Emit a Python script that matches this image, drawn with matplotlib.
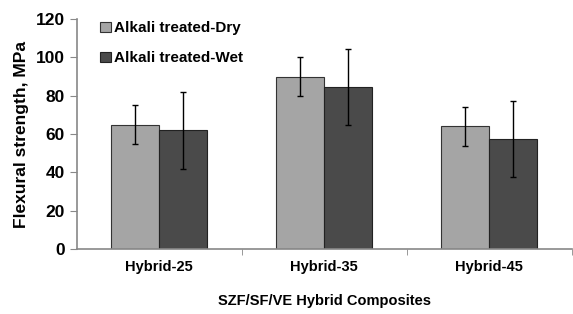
import numpy as np
import matplotlib
matplotlib.use("Agg")
import matplotlib.pyplot as plt

categories = ["Hybrid-25", "Hybrid-35", "Hybrid-45"]
dry_mean = [65, 90, 64]
dry_err = [10, 10, 10]
wet_mean = [62, 84.5, 57.5]
wet_err = [20, 20, 20]
series_names = ["Alkali treated-Dry", "Alkali treated-Wet"]

plt.rcParams["font.family"] = ["Liberation Sans", "DejaVu Sans"]

fig = plt.figure(figsize=(5.73, 3.14), dpi=100)
ax = fig.add_axes([0.134, 0.207, 0.864, 0.732])

x = np.arange(len(categories))
w = 0.29
err_kw = dict(ecolor="black", elinewidth=1.0, capsize=2.5, capthick=1.0)
ax.bar(x - w / 2, dry_mean, w, yerr=dry_err, color="#a5a5a5", edgecolor="#333333",
       linewidth=0.8, label=series_names[0], error_kw=err_kw)
ax.bar(x + w / 2, wet_mean, w, yerr=wet_err, color="#4a4a4a", edgecolor="#222222",
       linewidth=0.8, label=series_names[1], error_kw=err_kw)

ax.set_xlim(-0.5, 2.5)
ax.set_ylim(0, 120)
ax.set_yticks(range(0, 121, 20))
ax.set_xticks(x)
ax.set_xticklabels(categories, fontsize=10.5, fontweight="bold")
ax.set_xticks([0.5, 1.5, 2.5], minor=True)
ax.tick_params(axis="x", which="major", length=0, pad=8)
ax.tick_params(axis="x", which="minor", length=4, color="#888888")
ax.tick_params(axis="y", length=5, color="#888888", labelsize=12.5)
for lab in ax.get_yticklabels():
    lab.set_fontweight("bold")

for s in ["top", "right"]:
    ax.spines[s].set_visible(False)
for s in ["left", "bottom"]:
    ax.spines[s].set_color("#888888")
    ax.spines[s].set_linewidth(1.2)

ax.set_ylabel("Flexural strength, MPa", fontsize=12.5, fontweight="bold", labelpad=5)
ax.set_xlabel("SZF/SF/VE Hybrid Composites", fontsize=10.5, fontweight="bold",
              labelpad=14)

leg = ax.legend(loc="upper left", bbox_to_anchor=(0.02, 1.05), frameon=False,
                prop={"weight": "bold", "size": 11},
                handlelength=0.7, handleheight=0.7, handletextpad=0.2,
                labelspacing=1.05)

fig.savefig("out.png", dpi=100)
